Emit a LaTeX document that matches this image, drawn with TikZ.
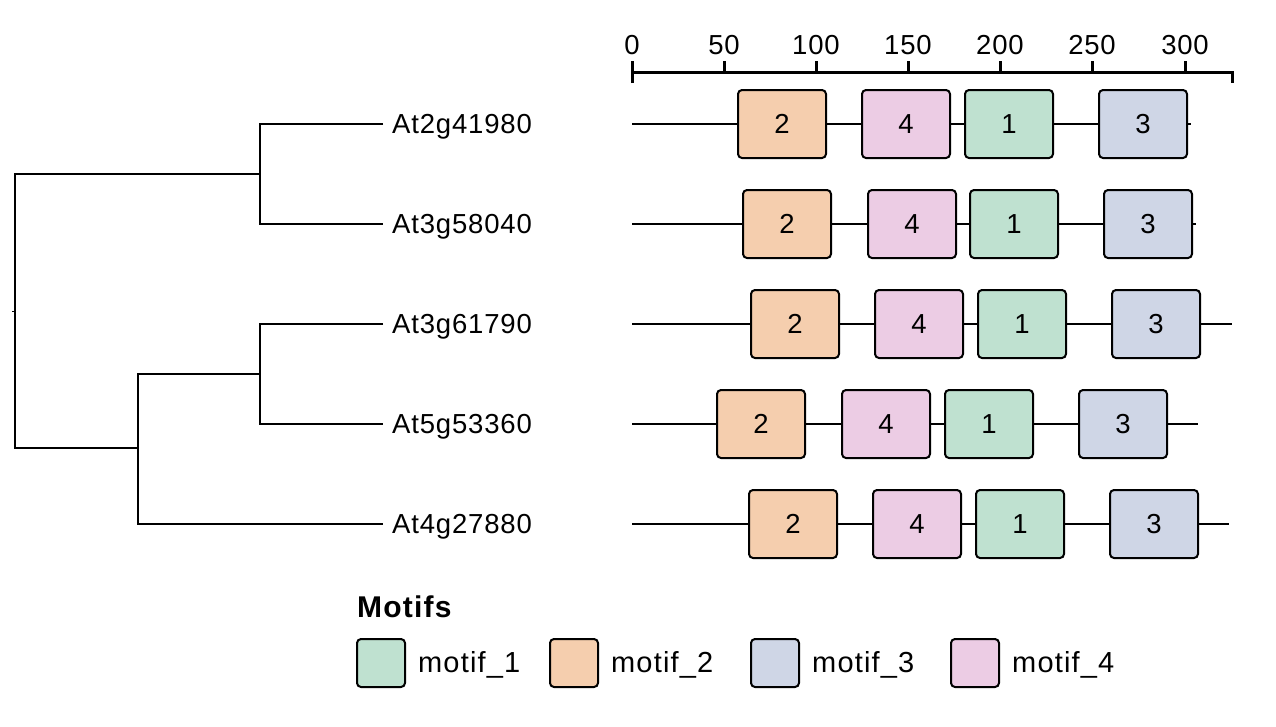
\documentclass[tikz,border=0pt]{standalone}
\usepackage{fontspec}
\setmainfont{Liberation Sans}[LetterSpace=3]
\definecolor{cMa}{RGB}{191,225,208}
\definecolor{cMb}{RGB}{245,206,174}
\definecolor{cMc}{RGB}{207,214,230}
\definecolor{cMd}{RGB}{236,204,228}
\begin{document}
\begin{tikzpicture}[x=1pt,y=-1pt,
  txt/.style={font=\fontsize{27.5}{32}\selectfont},
  tree/.style={line width=2.8pt},
  bb/.style={line width=2pt},
  leaf/.style={txt, anchor=west, inner xsep=9pt, inner ysep=0pt, text height=19pt, text depth=0pt},
  motif/.style={txt, draw, line width=2pt, rounded corners=4pt, minimum width=88pt, minimum height=68pt, inner sep=0pt},
  ma/.style={motif, fill=cMa},
  mb/.style={motif, fill=cMb},
  mc/.style={motif, fill=cMc},
  md/.style={motif, fill=cMd},
  key/.style={draw, line width=2pt, rounded corners=4pt, minimum width=48pt, minimum height=48pt, inner sep=0pt},
  keytxt/.style={font=\fontsize{29}{34}\selectfont\addfontfeature{LetterSpace=4}, anchor=west, inner sep=0pt, text height=18pt, text depth=0pt}
]
\useasboundingbox (0,0) rectangle (1276,726);

% ---- axis ----
\coordinate (ax0) at (632,72);
\coordinate (ax1) at (1232,72);
\draw[line width=3pt] ([yshift=-11pt]ax0) -- (ax0) -- (ax1) -- ([yshift=-11pt]ax1);
\foreach \v/\x in {0/632,50/724,100/816,150/908,200/1000,250/1092,300/1185}{
  \draw[line width=3pt] (\x,72) -- (\x,61);
  \node[txt] (tick\v) at (\x,45) {\v};
}

% ---- leaves ----
\node[leaf] (L1) at (383,124) {At2g41980};
\node[leaf] (L2) at (383,224) {At3g58040};
\node[leaf] (L3) at (383,324) {At3g61790};
\node[leaf] (L4) at (383,424) {At5g53360};
\node[leaf] (L5) at (383,524) {At4g27880};

% ---- tree ----
\coordinate (r) at (15,311);
\coordinate (a) at (260,174);
\coordinate (b) at (138,448);
\coordinate (c) at (260,374);
\draw[tree] (L1.west) -| (a) |- (L2.west);
\draw[tree] (L3.west) -| (c) |- (L4.west);
\draw[tree] (c) -| (b) |- (L5.west);
\draw[tree] (a) -| (r) |- (b);
\draw[line width=1pt] (r) -- ++(-3,0);

% ---- rows ----
\foreach \r/\y/\e/\pb/\pd/\pa/\pc in {
  1/124/1191/737/861/964/1098,
  2/224/1196/742/867/969/1103,
  3/324/1232/750/874/977/1111,
  4/424/1198/716/841/944/1078,
  5/524/1229/748/872/975/1109}{
  \coordinate (s\r) at (632,\y);
  \coordinate (e\r) at (\e,\y);
  \draw[bb] (s\r) -- (e\r);
  \node[mb] (b\r) at (\pb+45,\y) {2};
  \node[md] (d\r) at (\pd+45,\y) {4};
  \node[ma] (a\r) at (\pa+45,\y) {1};
  \node[mc] (c\r) at (\pc+45,\y) {3};
}

% ---- legend ----
\node[anchor=west, inner sep=0pt, font=\fontsize{30}{35}\selectfont\bfseries\addfontfeature{LetterSpace=4}] (title) at (357,607) {Motifs};
\node[key, fill=cMa] (k1) at (381,663) {};
\node[keytxt] (t1) at ([xshift=12pt]k1.east) {motif\_1};
\node[key, fill=cMb] (k2) at (574,663) {};
\node[keytxt] (t2) at ([xshift=12pt]k2.east) {motif\_2};
\node[key, fill=cMc] (k3) at (775,663) {};
\node[keytxt] (t3) at ([xshift=12pt]k3.east) {motif\_3};
\node[key, fill=cMd] (k4) at (975,663) {};
\node[keytxt] (t4) at ([xshift=12pt]k4.east) {motif\_4};
\end{tikzpicture}
\end{document}
